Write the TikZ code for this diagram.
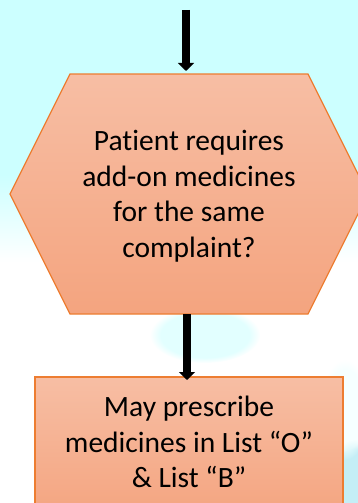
\documentclass[tikz,border=0pt]{standalone}
\usepackage{fontspec}
\setmainfont[Ligatures=NoCommon]{Carlito}
\usetikzlibrary{arrows.meta,fadings}
\definecolor{skycyan}{HTML}{CCFFFF}
\definecolor{paleblue}{HTML}{C4EEF6}
\definecolor{boxtop}{HTML}{F7BEA4}
\definecolor{boxbot}{HTML}{F4A47F}
\definecolor{boxline}{HTML}{ED7D31}
\begin{document}
\begin{tikzpicture}[x=1pt,y=-1pt,
  flowarrow/.style={line width=8pt,-{Triangle[width=16pt,length=8pt]}},
  shapefill/.style={top color=boxtop,bottom color=boxbot,draw=boxline,line width=1.3pt},
  txt/.style={font=\fontsize{29.5}{35.5}\selectfont,align=center,text=black},
  blob/.style={fill=#1,path fading=circle with fuzzy edge 20 percent}]
\useasboundingbox (0,0) rectangle (358,503);
\clip (0,0) rectangle (358,503);

% backdrop: cyan sky fading into a pale, blurred lower half
\fill[white] (0,0) rectangle (358,503);
\fill[skycyan] (0,0) rectangle (358,175);
\shade[top color=skycyan,bottom color=white] (0,175) rectangle (358,262);
\fill[blob=skycyan!70,opacity=0.8] (205,335) ellipse (55 and 28);
\fill[blob=paleblue] (355,485) ellipse (30 and 45);
\fill[blob=skycyan!30,opacity=0.6] (345,410) ellipse (25 and 50);

% decision hexagon
\coordinate (hexTop) at (189,74);
\coordinate (hexBot) at (189,314);
\shade[shapefill] (70,74) -- (308,74) -- (368,194) -- (308,314)
  -- (70,314) -- (10,194) -- cycle;
\node[txt] (question) at (189,196)
  {Patient requires\\add-on medicines\\for the same\\complaint?};

% action box (runs past the lower edge)
\coordinate (boxTop) at (189,377);
\shade[shapefill] (35,377) rectangle (343,520);
\node[txt] (action) at (189,442)
  {May prescribe\\medicines in List “O”\\\& List “B”};

% connectors
\coordinate (inflow) at (186,10);
\draw[flowarrow] (inflow) -- (186,71);
\draw[flowarrow] ([xshift=-2pt]hexBot) -- ([xshift=-2pt,yshift=-3pt]boxTop);
\end{tikzpicture}
\end{document}
